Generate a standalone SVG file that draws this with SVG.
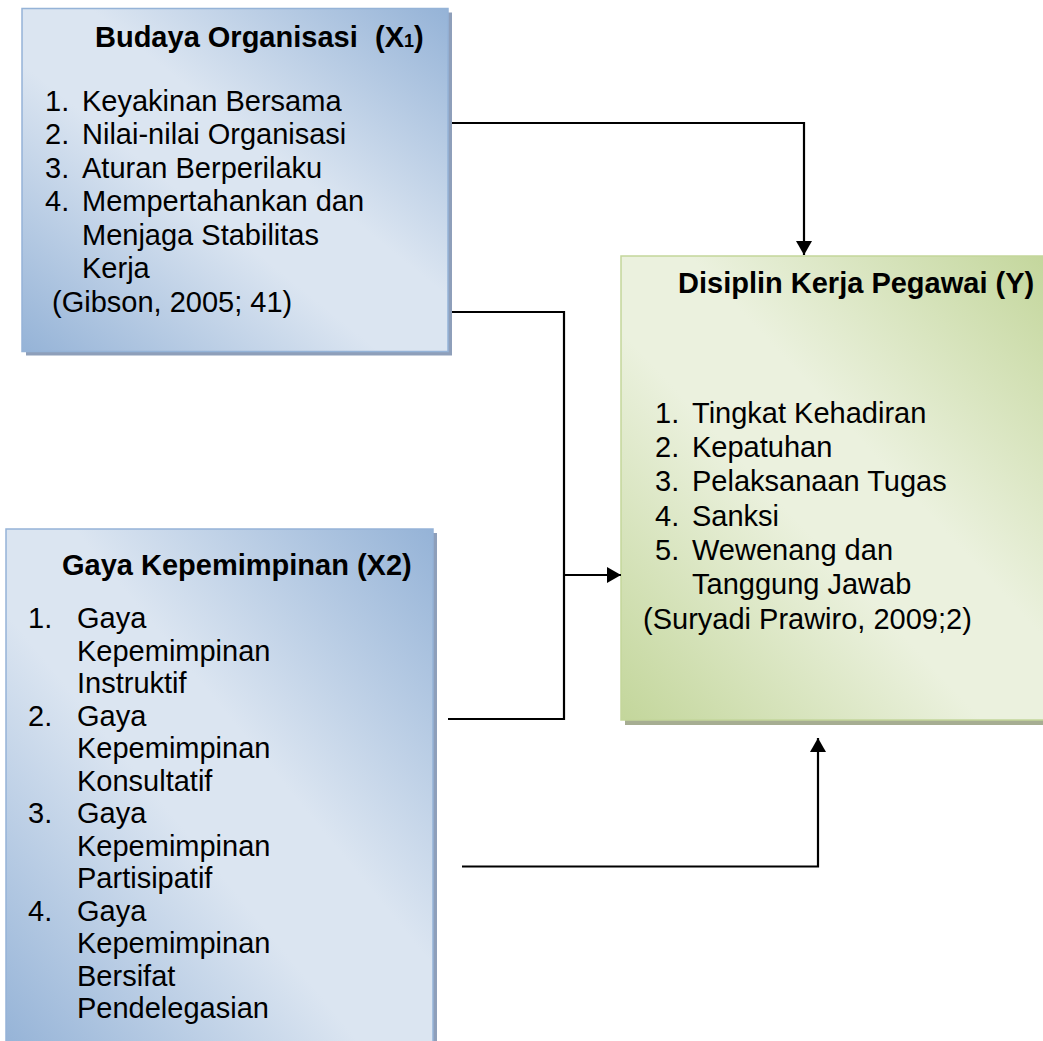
<svg xmlns="http://www.w3.org/2000/svg" width="1043" height="1041" viewBox="0 0 1043 1041">
  <defs>
    <linearGradient id="gBlue" x1="1" y1="0" x2="0" y2="1">
      <stop offset="0" stop-color="#95b3d7"/>
      <stop offset="0.42" stop-color="#dbe5f1"/>
      <stop offset="0.58" stop-color="#dbe5f1"/>
      <stop offset="1" stop-color="#95b3d7"/>
    </linearGradient>
    <linearGradient id="gGreen" x1="1" y1="0" x2="0" y2="1">
      <stop offset="0" stop-color="#c3d69b"/>
      <stop offset="0.42" stop-color="#ebf1de"/>
      <stop offset="0.58" stop-color="#ebf1de"/>
      <stop offset="1" stop-color="#c3d69b"/>
    </linearGradient>
    <marker id="arr" markerUnits="userSpaceOnUse" markerWidth="16" markerHeight="16" viewBox="0 0 14 16" refX="14" refY="8" orient="auto">
      <path d="M0,0 L14,8 L0,16 Z" fill="#000"/>
    </marker>
    <style>
      .t { font-family: "Liberation Sans", Arial, sans-serif; font-size: 29px; fill: #000; }
      .b { font-weight: bold; }
      .shB { fill: #8e9fba; }
      .shG { fill: #a6ad92; }
      .boxB { fill: url(#gBlue); stroke: #95b3d7; stroke-width: 1.5; }
      .boxG { fill: url(#gGreen); stroke: #c3d69b; stroke-width: 1.5; }
      .c { fill: none; stroke: #000; stroke-width: 2.2; }
    </style>
  </defs>
  <rect width="1043" height="1041" fill="#fff"/>

  <g id="budaya">
    <rect class="shB" x="26" y="12.5" width="426" height="343"/>
    <rect class="boxB" x="22" y="8.5" width="426" height="343"/>
    <text class="t b" x="95" y="47">Budaya Organisasi</text>
    <text class="t b" x="375" y="47">(X<tspan font-size="18">1</tspan>)</text>
    <text class="t" x="45" y="110.5">1.</text><text class="t" x="82" y="110.5">Keyakinan Bersama</text>
    <text class="t" x="45" y="144">2.</text><text class="t" x="82" y="144">Nilai-nilai Organisasi</text>
    <text class="t" x="45" y="177.5">3.</text><text class="t" x="82" y="177.5">Aturan Berperilaku</text>
    <text class="t" x="45" y="211">4.</text><text class="t" x="82" y="211">Mempertahankan dan</text>
    <text class="t" x="82" y="244.5">Menjaga Stabilitas</text>
    <text class="t" x="82" y="278">Kerja</text>
    <text class="t" x="52" y="311.5">(Gibson, 2005; 41)</text>
  </g>

  <g id="disiplin">
    <rect class="shG" x="625" y="260" width="430" height="465"/>
    <rect class="boxG" x="621" y="256" width="430" height="464"/>
    <text class="t b" x="678" y="293">Disiplin Kerja Pegawai (Y)</text>
    <text class="t" x="655" y="422.7">1.</text><text class="t" x="692" y="422.7">Tingkat Kehadiran</text>
    <text class="t" x="655" y="457">2.</text><text class="t" x="692" y="457">Kepatuhan</text>
    <text class="t" x="655" y="491.3">3.</text><text class="t" x="692" y="491.3">Pelaksanaan Tugas</text>
    <text class="t" x="655" y="525.6">4.</text><text class="t" x="692" y="525.6">Sanksi</text>
    <text class="t" x="655" y="559.9">5.</text><text class="t" x="692" y="559.9">Wewenang dan</text>
    <text class="t" x="692" y="594.2">Tanggung Jawab</text>
    <text class="t" x="643" y="628.5">(Suryadi Prawiro, 2009;2)</text>
  </g>

  <g id="gaya">
    <rect class="shB" x="10" y="533" width="427" height="520"/>
    <rect class="boxB" x="6" y="529" width="427" height="520"/>
    <text class="t b" x="62" y="575">Gaya Kepemimpinan (X2)</text>
    <text class="t" x="28" y="628">1.</text><text class="t" x="77" y="628">Gaya</text>
    <text class="t" x="77" y="660.5">Kepemimpinan</text>
    <text class="t" x="77" y="693">Instruktif</text>
    <text class="t" x="28" y="725.5">2.</text><text class="t" x="77" y="725.5">Gaya</text>
    <text class="t" x="77" y="758">Kepemimpinan</text>
    <text class="t" x="77" y="790.5">Konsultatif</text>
    <text class="t" x="28" y="823">3.</text><text class="t" x="77" y="823">Gaya</text>
    <text class="t" x="77" y="855.5">Kepemimpinan</text>
    <text class="t" x="77" y="888">Partisipatif</text>
    <text class="t" x="28" y="920.5">4.</text><text class="t" x="77" y="920.5">Gaya</text>
    <text class="t" x="77" y="953">Kepemimpinan</text>
    <text class="t" x="77" y="985.5">Bersifat</text>
    <text class="t" x="77" y="1018">Pendelegasian</text>
  </g>

  <g id="connectors">
    <polyline class="c" points="452,123 804,123 804,255" marker-end="url(#arr)"/>
    <polyline class="c" points="452,312 564,312 564,719 448,719"/>
    <line class="c" x1="564" y1="575" x2="621" y2="575" marker-end="url(#arr)"/>
    <polyline class="c" points="462,866.5 818,866.5 818,738" marker-end="url(#arr)"/>
  </g>
</svg>
